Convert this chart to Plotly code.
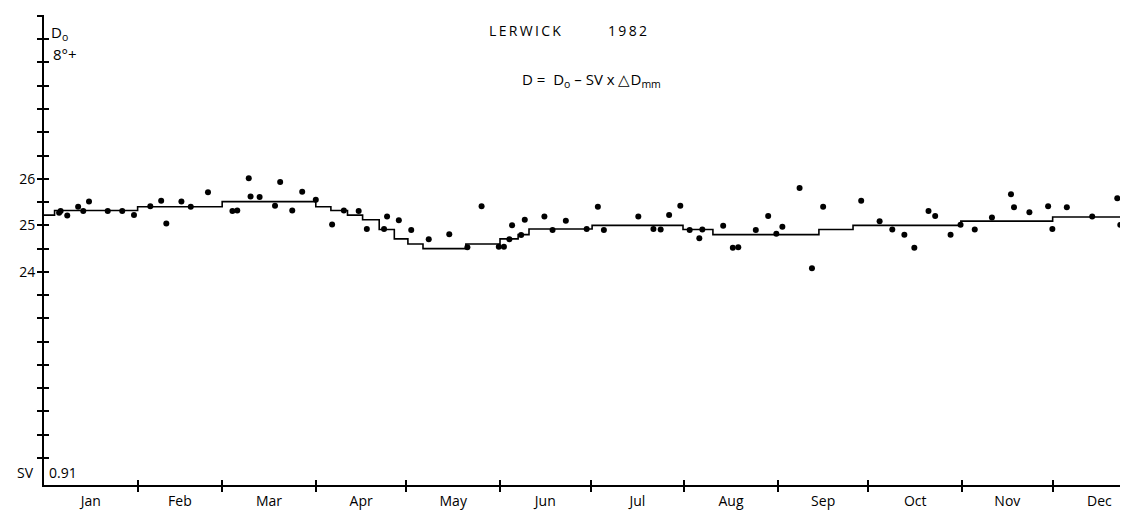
import numpy as np
import plotly.graph_objects as go

# ---------------- data ----------------
months = ["Jan", "Feb", "Mar", "Apr", "May", "Jun",
          "Jul", "Aug", "Sep", "Oct", "Nov", "Dec"]
month_days = [31, 28, 31, 30, 31, 30, 31, 31, 30, 31, 30, 31]

# baseline step line (day of year where each level starts, level in minutes above 8°)
step_start = [0, 3.5, 31, 59, 90, 95, 100.5, 105.5, 111, 116, 120.5, 125.5,
              139.7, 151, 157, 160.6, 181.5, 211.6, 221.5, 256.6, 267.9,
              303.6, 334]
step_level = [25.22, 25.32, 25.40, 25.51, 25.40, 25.32, 25.22, 25.12, 24.91,
              24.71, 24.60, 24.50, 24.60, 24.71, 24.80, 24.92, 25.00, 24.91,
              24.80, 24.91, 25.00, 25.09, 25.18]

# observed values (day of year, D0 minutes)
dot_day = [5.0, 5.5, 7.7, 11.3, 13.0, 14.9, 21.1, 25.9, 29.8, 35.2, 38.8, 40.5,
           45.5, 48.6, 54.3, 62.4, 64.0, 67.8, 68.4, 71.4, 76.5, 78.2, 82.2,
           85.5, 90.0, 95.4, 99.3, 104.2, 106.9, 112.6, 113.6, 117.5, 121.6,
           127.4, 134.2, 140.2, 144.9, 150.6, 152.3, 154.1, 155.0, 158.0,
           159.2, 165.7, 168.4, 172.8, 179.7, 183.4, 185.4, 196.8, 201.8,
           204.2, 207.0, 210.7, 213.8, 217.0, 218.0, 224.9, 228.1, 229.9,
           235.7, 239.8, 242.5, 244.5, 250.2, 254.3, 258.0, 270.6, 276.7,
           280.9, 284.9, 288.2, 292.9, 295.1, 300.2, 303.5, 308.2, 313.9,
           320.2, 321.2, 326.3, 332.5, 333.9, 338.7, 347.1, 355.4, 356.4]
dot_value = [25.27, 25.31, 25.21, 25.40, 25.31, 25.51, 25.31, 25.31, 25.22,
             25.41, 25.53, 25.04, 25.51, 25.40, 25.71, 25.31, 25.32, 26.01,
             25.62, 25.61, 25.42, 25.93, 25.32, 25.72, 25.55, 25.02, 25.32,
             25.31, 24.92, 24.92, 25.19, 25.11, 24.90, 24.70, 24.81, 24.53,
             25.41, 24.54, 24.54, 24.70, 25.00, 24.79, 25.12, 25.19, 24.90,
             25.10, 24.92, 25.40, 24.90, 25.19, 24.92, 24.91, 25.22, 25.42,
             24.90, 24.72, 24.91, 24.99, 24.52, 24.53, 24.90, 25.20, 24.82,
             24.97, 25.80, 24.08, 25.40, 25.53, 25.09, 24.91, 24.80, 24.52,
             25.31, 25.20, 24.80, 25.01, 24.91, 25.17, 25.67, 25.39, 25.28,
             25.41, 24.92, 25.39, 25.19, 25.58, 25.01]

y_tick_values = [20 + 0.5 * i for i in range(20)]   # 20 .. 29.5
y_label_values = [24, 25, 26]
y_label_text = ["24", "25", "26"]

X_RANGE = [0, 361.6]
Y_RANGE = [19.42, 29.52]

# ---------------- derived ----------------
cum = np.cumsum(month_days)
boundaries = [float(v) for v in cum[:-1]]
centers = [float(c - d / 2) for c, d in zip(cum, month_days)]

step_x = step_start + [X_RANGE[1]]
step_y = step_level + [step_level[-1]]

FONT = "Open Sans"
INK = "#000000"

fig = go.Figure()
fig.add_trace(go.Scatter(x=step_x, y=step_y, mode="lines",
                         line=dict(color=INK, width=1.6, shape="hv"),
                         showlegend=False, hoverinfo="skip"))
fig.add_trace(go.Scatter(x=dot_day, y=dot_value, mode="markers",
                         marker=dict(color=INK, size=6),
                         showlegend=False))
# empty traces so overlay axes (crossing ticks / labels) get drawn
for xa, ya in [("x2", "y"), ("x3", "y"), ("x", "y2"), ("x", "y3")]:
    fig.add_trace(go.Scatter(x=[None], y=[None], xaxis=xa, yaxis=ya,
                             showlegend=False, hoverinfo="skip"))

common = dict(showgrid=False, zeroline=False)
tick = dict(ticklen=5, tickwidth=1.5, tickcolor=INK)
fig.update_layout(
    width=1128, height=513,
    margin=dict(l=36, r=0, t=7, b=36),
    paper_bgcolor="white", plot_bgcolor="white",
    font=dict(family=FONT, color=INK, size=14),
    xaxis=dict(range=X_RANGE, tickvals=boundaries, ticks="outside",
               showticklabels=False, showline=True, linecolor=INK,
               linewidth=1.6, **tick, **common),
    xaxis2=dict(range=X_RANGE, overlaying="x", anchor="y", side="bottom",
                tickvals=boundaries, ticks="inside", showticklabels=False,
                showline=False, **tick, **common),
    xaxis3=dict(range=X_RANGE, overlaying="x", anchor="y", side="bottom",
                tickvals=centers, ticktext=months, ticks="", showline=False,
                ticklabelstandoff=6, tickfont=dict(size=14, family=FONT),
                **common),
    yaxis=dict(range=Y_RANGE, tickvals=y_tick_values, ticks="outside",
               showticklabels=False, showline=True, linecolor=INK,
               linewidth=1.6, **tick, **common),
    yaxis2=dict(range=Y_RANGE, overlaying="y", anchor="x", side="left",
                tickvals=y_tick_values, ticks="inside", showticklabels=False,
                showline=False, **tick, **common),
    yaxis3=dict(range=Y_RANGE, overlaying="y", anchor="x", side="left",
                tickvals=y_label_values, ticktext=y_label_text, ticks="outside",
                ticklen=5, tickwidth=1.5, tickcolor=INK, showline=False,
                ticklabelstandoff=0, tickfont=dict(size=14, family=FONT),
                **common),
)

def px_to_paper(px, py):
    return (px - 36) / 1092.0, (477 - py) / 469.0

annos = [
    ("L\u2009E\u2009R\u2009W\u2009I\u2009C\u2009K", 516.5, 23, "center", 14),
    ("1\u20099\u20098\u20092", 619.5, 23, "center", 14),
    ("D&nbsp;=&nbsp;&nbsp;D<sub>o</sub> \u2013 SV x \u25b3D<sub>mm</sub>", 583, 73, "center", 15),
    ("D<sub>o</sub>", 41, 26, "left", 15),
    ("8\u00b0+", 43, 47, "left", 15),
    ("SV", 28, 465, "right", 14),
    ("0.91", 39, 465, "left", 14),
]
for text, px, py, align, size in annos:
    xp, yp = px_to_paper(px, py)
    fig.add_annotation(text=text, x=xp, y=yp, xref="paper", yref="paper",
                       xanchor=align, yanchor="middle", showarrow=False,
                       font=dict(family=FONT, size=size, color=INK))

fig.write_html("out.html")
